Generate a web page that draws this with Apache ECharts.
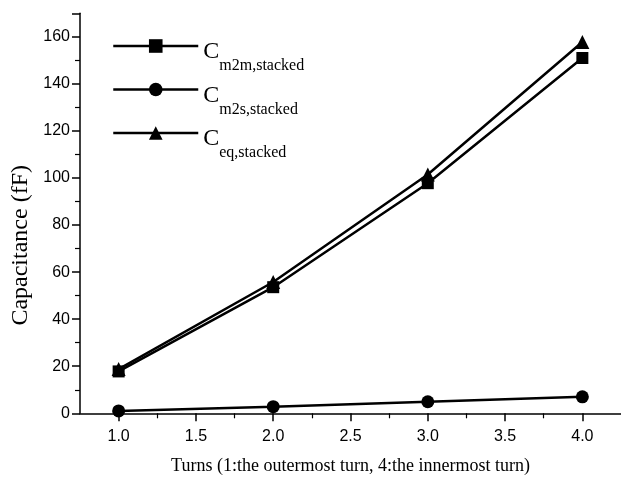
<!DOCTYPE html>
<html>
<head>
<meta charset="utf-8">
<script src="https://cdn.jsdelivr.net/npm/echarts@6/dist/echarts.min.js"></script>
<style>html,body{margin:0;padding:0;background:#fff;}#c{width:621px;height:477px;}</style>
</head>
<body>
<div id="c"></div>
<script>
const turns = [1.0, 2.0, 3.0, 4.0];
const cM2m = [17.8, 53.6, 97.8, 151.0];
const cM2s = [1.0, 2.8, 4.9, 7.0];
const cEq = [18.8, 55.8, 101.5, 157.8];
const xMajorTicks = [1.0, 1.5, 2.0, 2.5, 3.0, 3.5, 4.0];
const xMinorTicks = [1.25, 1.75, 2.25, 2.75, 3.25, 3.75];
const seriesNames = ['m2m', 'm2s', 'eq'];

const pairs = v => turns.map((t, i) => [t, v[i]]);
const serif = 'Liberation Serif';
const sans = 'Liberation Sans';

const chart = echarts.init(document.getElementById('c'), null, {renderer: 'canvas'});
const common = {
  type: 'line',
  color: '#000',
  lineStyle: {color: '#000', width: 2.5},
  itemStyle: {color: '#000'},
  animation: false
};
chart.setOption({
  backgroundColor: '#fff',
  animation: false,
  grid: {left: 80, top: 13.3, width: 541, height: 400, outerBoundsMode: 'none', containLabel: false},
  legend: {
    orient: 'vertical',
    left: 107,
    top: 29,
    itemWidth: 85,
    itemHeight: 17,
    itemGap: -8.5,
    data: seriesNames,
    formatter: n => '{c|C}{s|' + n + ',stacked}',
    textStyle: {
      rich: {
        c: {fontFamily: serif, fontSize: 24, lineHeight: 24, padding: [6, 0, 0, 0], verticalAlign: 'top', color: '#000'},
        s: {fontFamily: serif, fontSize: 16, lineHeight: 16, padding: [24, 0, 12, 0], verticalAlign: 'top', color: '#000'}
      }
    },
    lineStyle: {width: 2.5, color: '#000'}
  },
  xAxis: [{
    type: 'value', min: 0.75, max: 4.25,
    name: 'Turns (1:the outermost turn, 4:the innermost turn)',
    nameLocation: 'middle', nameGap: 44,
    nameTextStyle: {fontFamily: serif, fontSize: 18, color: '#000'},
    axisLine: {onZero: false, lineStyle: {color: '#000', width: 1.5}},
    axisTick: {customValues: xMajorTicks, length: 8, lineStyle: {color: '#000', width: 1.5}},
    axisLabel: {customValues: xMajorTicks, formatter: v => v.toFixed(1), fontFamily: sans, fontSize: 16, color: '#000', margin: 15},
    splitLine: {show: false}
  }, {
    type: 'value', min: 0.75, max: 4.25, position: 'bottom',
    axisLine: {show: false},
    axisTick: {customValues: xMinorTicks, length: 5, lineStyle: {color: '#000', width: 1.2}},
    axisLabel: {show: false},
    splitLine: {show: false}
  }],
  yAxis: {
    type: 'value', min: 0, max: 170, interval: 20,
    name: 'Capacitance (fF)',
    nameLocation: 'middle', nameGap: 46,
    nameTextStyle: {fontFamily: serif, fontSize: 24, color: '#000', padding: [0, 64, 0, 0]},
    axisLine: {show: true, lineStyle: {color: '#000', width: 1.5}},
    axisTick: {show: true, length: 8, lineStyle: {color: '#000', width: 1.5}},
    minorTick: {show: true, splitNumber: 2, length: 5, lineStyle: {color: '#000', width: 1.2}},
    axisLabel: {fontFamily: sans, fontSize: 16, color: '#000', margin: 10, showMaxLabel: false},
    splitLine: {show: false}
  },
  series: [
    Object.assign({name: 'm2m', symbol: 'rect', data: pairs(cM2m)}, common, {symbolSize: 12}),
    Object.assign({name: 'm2s', symbol: 'circle', data: pairs(cM2s)}, common, {symbolSize: 13}),
    Object.assign({name: 'eq', symbol: 'triangle', data: pairs(cEq)}, common, {symbolSize: 14})
  ]
});
</script>
</body>
</html>
